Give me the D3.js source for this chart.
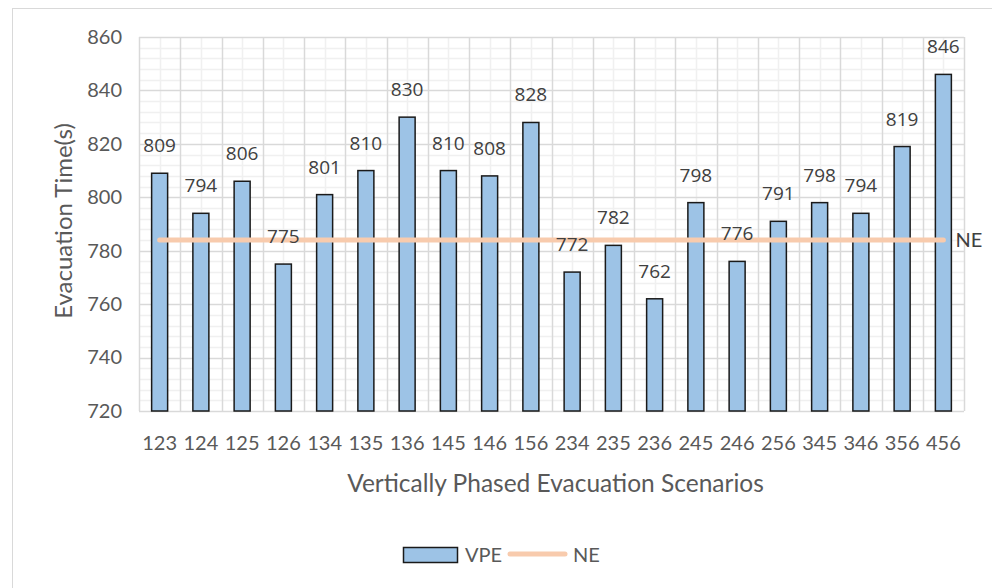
<!DOCTYPE html>
<html>
<head>
<meta charset="utf-8">
<script src="https://cdn.jsdelivr.net/npm/d3@7"></script>
<style>
  body { margin: 0; background: #fff; }
</style>
</head>
<body>
<script>
const scenarios = ["123","124","125","126","134","135","136","145","146","156",
                   "234","235","236","245","246","256","345","346","356","456"];
const vpe = [809,794,806,775,801,810,830,810,808,828,772,782,762,798,776,791,798,794,819,846];
const ne = 784;
const yTicks = [720,740,760,780,800,820,840,860];
const yMinorStep = 4;

function main() {
    let svg = d3.select("body").append("svg")
        .attr("width", 992)
        .attr("height", 588);

    // chart border
    svg.append("rect")
        .attr("x", 12.5).attr("y", 8.5)
        .attr("width", 1000).attr("height", 600)
        .attr("fill", "#fff")
        .attr("stroke", "#d9d9d9");

    let left = 139, right = 964, top = 37, bottom = 411;
    let font = "Lato, 'Open Sans', sans-serif";

    let xScale = d3.scaleBand().domain(scenarios).range([left, right]);
    let yScale = d3.scaleLinear().domain([720, 860]).range([bottom, top]);
    let step = xScale.step();

    // minor grid
    let minorY = d3.range(720, 860.1, yMinorStep).filter(v => v % 20 != 0);
    svg.append("g").selectAll("line").data(minorY).enter().append("line")
        .attr("x1", left).attr("x2", right)
        .attr("y1", d => Math.round(yScale(d)) + 0.5)
        .attr("y2", d => Math.round(yScale(d)) + 0.5)
        .attr("stroke", "#f0f0f0").attr("stroke-width", 1.5);
    svg.append("g").selectAll("line").data(scenarios).enter().append("line")
        .attr("x1", d => Math.round(xScale(d) + step / 2) + 0.5)
        .attr("x2", d => Math.round(xScale(d) + step / 2) + 0.5)
        .attr("y1", top).attr("y2", bottom)
        .attr("stroke", "#f0f0f0").attr("stroke-width", 1.5);

    // major grid
    svg.append("g").selectAll("line").data(yTicks).enter().append("line")
        .attr("x1", left).attr("x2", right)
        .attr("y1", d => Math.round(yScale(d)) + 0.5)
        .attr("y2", d => Math.round(yScale(d)) + 0.5)
        .attr("stroke", "#d9d9d9").attr("stroke-width", 1.5);
    let bounds = scenarios.map(d => xScale(d)).concat([right]);
    svg.append("g").selectAll("line").data(bounds).enter().append("line")
        .attr("x1", d => Math.round(d) + 0.5)
        .attr("x2", d => Math.round(d) + 0.5)
        .attr("y1", top).attr("y2", bottom)
        .attr("stroke", "#d9d9d9").attr("stroke-width", 1.5);

    // axes labels
    let yAxis = d3.axisLeft(yScale).tickValues(yTicks).tickSize(0).tickPadding(17);
    let gy = svg.append("g")
        .attr("transform", `translate(${left},0)`)
        .call(yAxis);
    gy.select(".domain").remove();
    gy.selectAll("text")
        .style("font-family", font)
        .style("font-size", "20px")
        .attr("fill", "#595959");

    let xAxis = d3.axisBottom(xScale).tickSize(0).tickPadding(25);
    let gx = svg.append("g")
        .attr("transform", `translate(0,${bottom})`)
        .call(xAxis);
    gx.select(".domain").remove();
    gx.selectAll("text")
        .style("font-family", font)
        .style("font-size", "20px")
        .attr("fill", "#595959");

    // bars
    let barW = 16;
    svg.append("g").selectAll("rect").data(vpe).enter().append("rect")
        .attr("x", (d, i) => xScale(scenarios[i]) + step / 2 - barW / 2)
        .attr("y", d => yScale(d))
        .attr("width", barW)
        .attr("height", d => bottom - yScale(d))
        .attr("fill", "#9dc3e6")
        .attr("stroke", "#1a1a1a")
        .attr("stroke-width", 1.5);

    // NE line
    let first = xScale(scenarios[0]) + step / 2;
    let last = xScale(scenarios[scenarios.length - 1]) + step / 2;
    svg.append("line")
        .attr("x1", first).attr("x2", last)
        .attr("y1", yScale(ne)).attr("y2", yScale(ne))
        .attr("stroke", "#f8cbad")
        .attr("stroke-width", 5)
        .attr("stroke-linecap", "round");
    svg.append("text")
        .attr("x", last + 12)
        .attr("y", yScale(ne) + 7)
        .text("NE")
        .style("font-family", font)
        .style("font-size", "20px")
        .attr("fill", "#404040");

    // data labels
    svg.append("g").selectAll("text").data(vpe).enter().append("text")
        .attr("x", (d, i) => xScale(scenarios[i]) + step / 2)
        .attr("y", d => yScale(d) - 21)
        .attr("text-anchor", "middle")
        .text(d => d)
        .style("font-family", "'Open Sans', sans-serif")
        .style("font-size", "19px")
        .attr("fill", "#404040");

    // axis titles
    svg.append("text")
        .attr("x", (left + right) / 2 + 4)
        .attr("y", 492)
        .attr("text-anchor", "middle")
        .text("Vertically Phased Evacuation Scenarios")
        .style("font-family", font)
        .style("font-size", "24.5px")
        .attr("fill", "#595959");

    svg.append("text")
        .attr("transform", `translate(72,221) rotate(-90)`)
        .attr("text-anchor", "middle")
        .text("Evacuation Time(s)")
        .style("font-family", font)
        .style("font-size", "24px")
        .attr("fill", "#595959");

    // legend
    let legend = svg.append("g");
    legend.append("rect")
        .attr("x", 403.5).attr("y", 547.5)
        .attr("width", 54).attr("height", 15)
        .attr("fill", "#9dc3e6")
        .attr("stroke", "#1a1a1a")
        .attr("stroke-width", 1.5);
    legend.append("text")
        .attr("x", 465).attr("y", 562)
        .text("VPE")
        .style("font-family", font)
        .style("font-size", "20px")
        .attr("fill", "#595959");
    legend.append("line")
        .attr("x1", 510).attr("x2", 565)
        .attr("y1", 554).attr("y2", 554)
        .attr("stroke", "#f8cbad")
        .attr("stroke-width", 5)
        .attr("stroke-linecap", "round");
    legend.append("text")
        .attr("x", 573).attr("y", 562)
        .text("NE")
        .style("font-family", font)
        .style("font-size", "20px")
        .attr("fill", "#595959");
}

main()
</script>
</body>
</html>
